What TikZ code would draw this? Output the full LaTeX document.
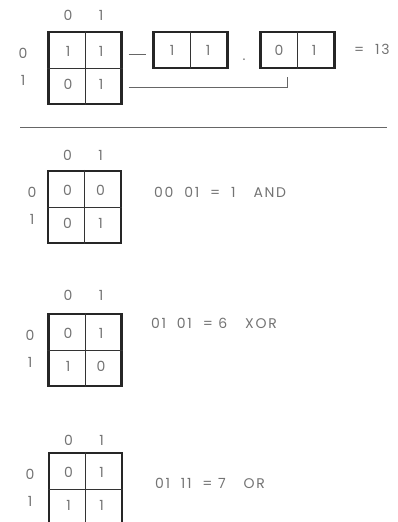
\documentclass[tikz,border=0pt]{standalone}
\usepackage{fontspec}
\setmainfont{Poppins}[LetterSpace=12]
\usetikzlibrary{calc}

\begin{document}
\begin{tikzpicture}[x=1pt,y=-1pt,
  lbl/.style={text=black!55,inner sep=0pt,font=\fontsize{14}{16}\selectfont},
  kbox/.style={draw=black!85,line width=2.2pt,minimum width=73pt,minimum height=72pt,inner sep=0pt},
  rbox/.style={draw=black!85,line width=2.2pt,minimum width=74pt,minimum height=36pt,inner sep=0pt},
  divl/.style={draw=black!80,line width=0.9pt},
  wire/.style={draw=black!60,line width=0.8pt}]
\useasboundingbox (0,0) rectangle (397,522);
\clip (0,0) rectangle (397,522);
\foreach \g/\cx/\cy/\rx/\cly/\va/\vb/\vc/\vd in {1/85/68/23/15/1/1/0/1, 2/84.5/207/32/155/0/0/0/1, 3/85/350/30/295/0/1/1/0, 4/85.5/489/30/440/0/1/1/1} {
  \node[kbox] (k\g) at (\cx,\cy) {};
  \draw[divl] (k\g.north) -- (k\g.south) (k\g.west) -- (k\g.east);
  \node[lbl] (k\g-c0) at (\cx-17,\cly) {0};
  \node[lbl] (k\g-c1) at (\cx+16,\cly) {1};
  \node[lbl] (k\g-r0) at (\rx,\cy-15) {0};
  \node[lbl] (k\g-r1) at (\rx,\cy+12) {1};
  \node[lbl] (k\g-00) at (\cx-17,\cy-17) {\va};
  \node[lbl] (k\g-01) at (\cx+16,\cy-17) {\vb};
  \node[lbl] (k\g-10) at (\cx-17,\cy+16) {\vc};
  \node[lbl] (k\g-11) at (\cx+16,\cy+16) {\vd};
}
\node[rbox] (b2) at (190.5,50) {};
\draw[divl] (b2.north) -- (b2.south);
\node[lbl] (b2-0) at (172,50) {1};
\node[lbl] (b2-1) at (208,50) {1};
\node[rbox] (b3) at (297.5,50) {};
\draw[divl] (b3.north) -- (b3.south);
\node[lbl] (b3-0) at (279,50) {0};
\node[lbl] (b3-1) at (314,50) {1};
\node[lbl] (dot) at (244,60) {.};
\node[lbl,anchor=west] (res) at (354,49) {=\ \ 13};
\draw[wire] ($(k1.east)+(6,-14)$) -- ($(b2.west)+(-6,4)$);
\draw[wire] ($(k1.east)+(6,19)$) -| ($(b3.south)+(-10.5,8)$);
\draw[wire] (20,127) -- (387,127);
\node[lbl,anchor=west] (t2) at (154,192) {00\ \ 01\ \ =\ \ 1\hspace{18pt}AND};
\node[lbl,anchor=west] (t3) at (151,323) {01\ \ 01\ \ =\ 6\hspace{18pt}XOR};
\node[lbl,anchor=west] (t4) at (155,483) {01\ \ 11\ \ =\ 7\hspace{18pt}OR};
\end{tikzpicture}
\end{document}
